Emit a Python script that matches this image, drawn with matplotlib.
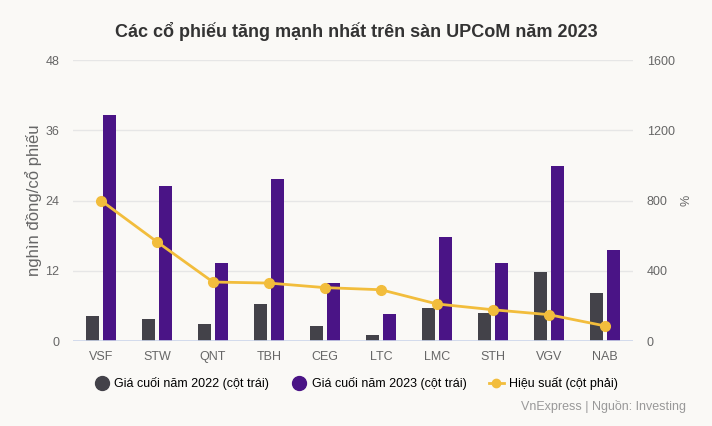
import matplotlib.pyplot as plt
import numpy as np
from matplotlib.lines import Line2D

plt.rcParams['font.family'] = ['Liberation Sans', 'DejaVu Sans']

tickers = ['VSF', 'STW', 'QNT', 'TBH', 'CEG', 'LTC', 'LMC', 'STH', 'VGV', 'NAB']
price_2022 = [4.2, 3.8, 2.9, 6.3, 2.5, 1.0, 5.7, 4.8, 11.8, 8.2]
price_2023 = [38.6, 26.4, 13.4, 27.7, 9.9, 4.6, 17.8, 13.3, 29.9, 15.6]
perf = [800, 565, 336, 330, 304, 292, 211, 178, 150, 86]

bg = '#faf9f6'
c22 = '#434249'
c23 = '#4a1486'
cline = '#f2bd3c'
grey = '#666666'

fig = plt.figure(figsize=(7.12, 4.26), dpi=100, facecolor=bg)
ax = fig.add_axes([0.1025, 0.1995, 0.7865, 0.6595], facecolor=bg)
ax2 = ax.twinx()

x = np.arange(len(tickers))
ax.bar(x - 0.155, price_2022, width=0.24, color=c22, zorder=2)
ax.bar(x + 0.155, price_2023, width=0.24, color=c23, zorder=2)
ax2.plot(x, perf, color=cline, lw=2, marker='o', ms=7, zorder=3)

ax.set_xlim(-0.5, len(tickers) - 0.5)
ax.set_ylim(0, 48)
ax.set_yticks([0, 12, 24, 36, 48])
ax2.set_ylim(0, 1600)
ax2.set_yticks([0, 400, 800, 1200, 1600])
ax.set_xticks(x)
ax.set_xticklabels(tickers)

ax.grid(axis='y', color='#e6e6e6', lw=1, zorder=0)
for a in (ax, ax2):
    for s in a.spines.values():
        s.set_visible(False)
    a.tick_params(length=0, colors=grey, labelsize=9)
ax.axhline(0, color='#ccd6eb', lw=1.2, zorder=2)
ax.tick_params(axis='y', pad=10)
ax2.tick_params(axis='y', pad=10)
ax.tick_params(axis='x', pad=7)

ax.set_ylabel('nghìn đồng/cổ phiếu', color=grey, fontsize=12, labelpad=2)
ax2.set_ylabel('%', color=grey, fontsize=9, labelpad=4)

fig.text(0.5, 0.925, 'Các cổ phiếu tăng mạnh nhất trên sàn UPCoM năm 2023',
         ha='center', va='center', fontsize=13, fontweight='bold', color='#333333')

handles = [
    Line2D([], [], color=c22, marker='o', ls='none', ms=10),
    Line2D([], [], color=c23, marker='o', ls='none', ms=10),
    Line2D([], [], color=cline, marker='o', lw=2, ms=6),
]
labels = ['Giá cuối năm 2022 (cột trái)', 'Giá cuối năm 2023 (cột trái)', 'Hiệu suất (cột phải)']
fig.legend(handles, labels, loc='center', bbox_to_anchor=(0.5, 0.1), ncol=3,
           frameon=False, fontsize=9, handlelength=1.2, handletextpad=0.4,
           columnspacing=1.8)

fig.text(0.963, 0.045, 'VnExpress | Nguồn: Investing', ha='right', va='center',
         fontsize=9, color='#999999')

fig.savefig('out.png', dpi=100, facecolor=bg)
